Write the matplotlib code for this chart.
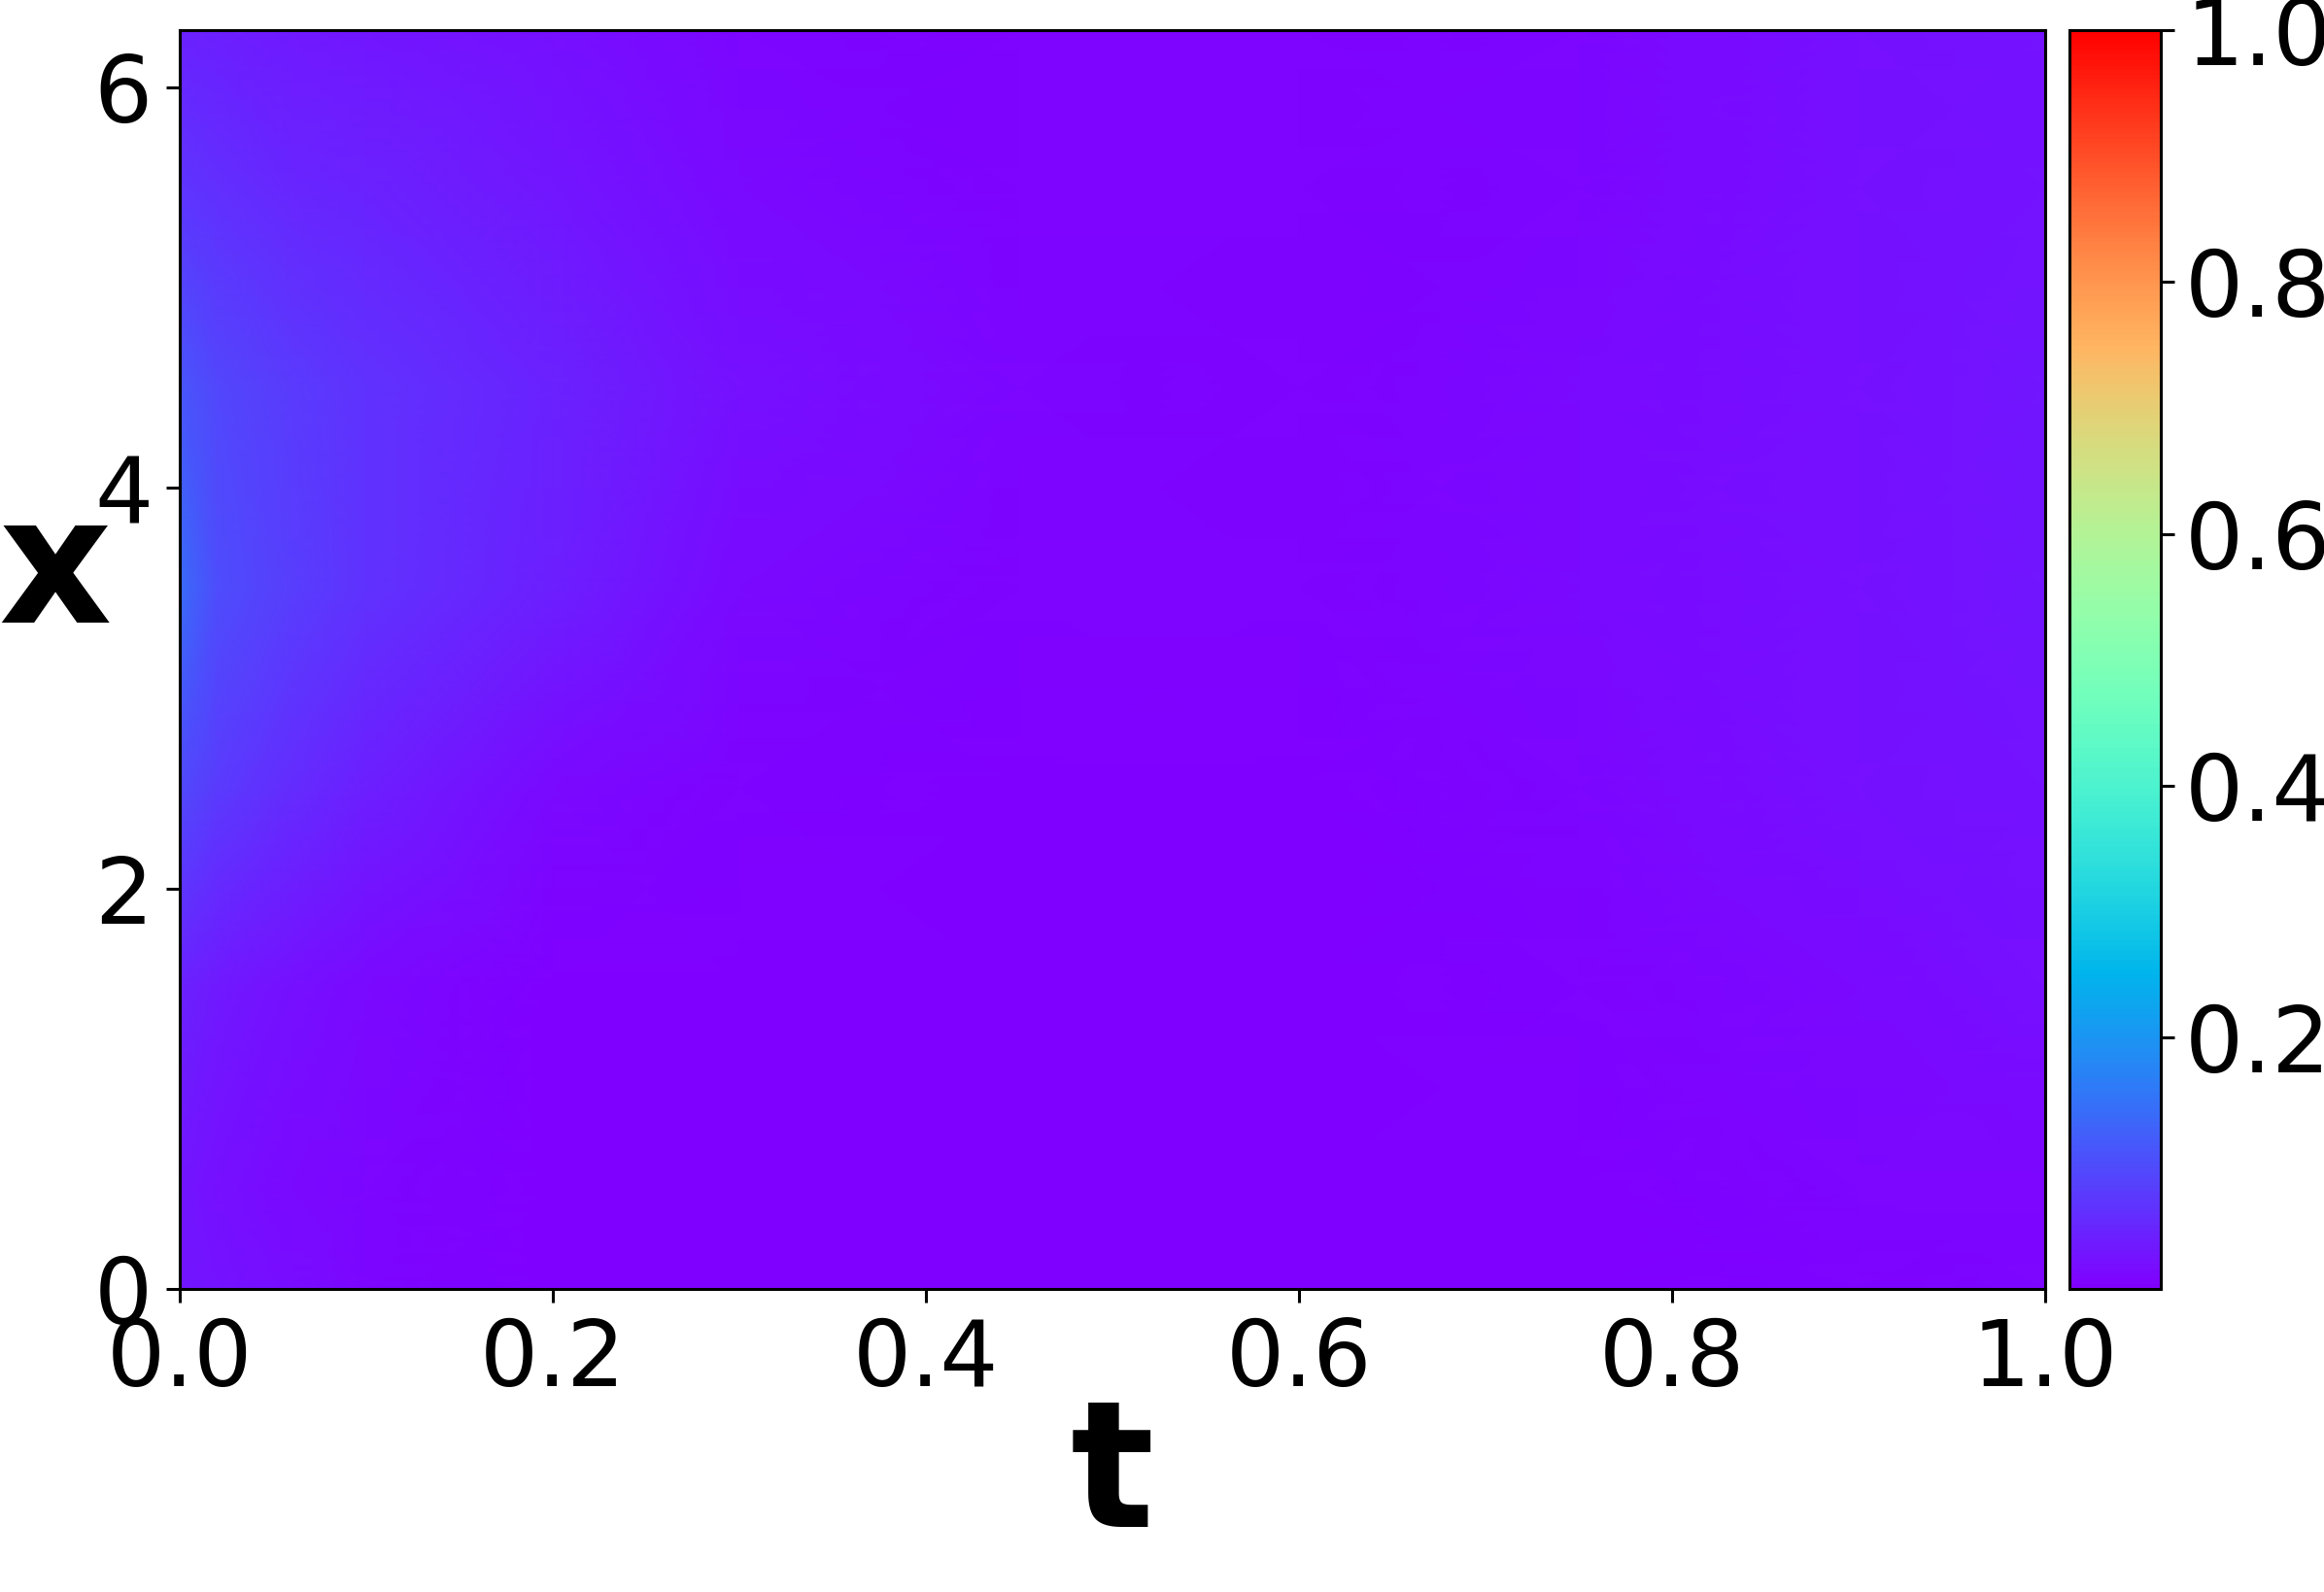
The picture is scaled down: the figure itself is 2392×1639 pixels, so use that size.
#Heatmap of u(t, x) with a rainbow colormap and colorbar

#import the libraries
import numpy as np
import matplotlib
matplotlib.use('Agg')
import matplotlib.pyplot as plt

#grid (coarse, the renderer blends between nodes)
t_nodes = [0.0, 0.02, 0.06, 0.1, 0.2, 0.3, 0.45, 0.6, 0.75, 0.9, 1.0]
x_nodes = [0.0, 0.5, 1.5, 2.5, 3.5, 4.5, 5.5, 2 * np.pi]

#one row per x node, one column per t node
u_x0 = [0.030, 0.025, 0.018, 0.010, 0.003, 0.000, 0.000, 0.000, 0.002, 0.005, 0.008]
u_x05 = [0.028, 0.022, 0.015, 0.010, 0.003, 0.000, 0.000, 0.000, 0.003, 0.008, 0.010]
u_x15 = [0.045, 0.035, 0.020, 0.012, 0.003, 0.001, 0.000, 0.002, 0.006, 0.015, 0.020]
u_x25 = [0.095, 0.075, 0.055, 0.040, 0.015, 0.005, 0.002, 0.003, 0.010, 0.020, 0.025]
u_x35 = [0.140, 0.100, 0.080, 0.065, 0.040, 0.015, 0.005, 0.005, 0.012, 0.022, 0.028]
u_x45 = [0.110, 0.090, 0.075, 0.065, 0.045, 0.020, 0.008, 0.005, 0.012, 0.022, 0.028]
u_x55 = [0.070, 0.060, 0.050, 0.045, 0.030, 0.015, 0.005, 0.005, 0.010, 0.020, 0.025]
u_x2pi = [0.045, 0.040, 0.035, 0.030, 0.020, 0.010, 0.005, 0.005, 0.010, 0.020, 0.025]

cbar_ticks = [0.2, 0.4, 0.6, 0.8, 1.0]

U = np.array([u_x0, u_x05, u_x15, u_x25, u_x35, u_x45, u_x55, u_x2pi])
T, X = np.meshgrid(t_nodes, x_nodes)

#figure
fig = plt.figure(figsize=(23.92, 16.39), dpi=100)
ax = fig.add_axes([0.0773, 0.1903, 0.8027, 0.7907])
cax = fig.add_axes([0.8905, 0.1903, 0.0393, 0.7907])

mesh = ax.pcolormesh(T, X, U, cmap='rainbow', vmin=0.0, vmax=1.0, shading='gouraud')
ax.set_xlim(0, 1)
ax.set_ylim(0, 2 * np.pi)
ax.set_xticks([0.0, 0.2, 0.4, 0.6, 0.8, 1.0])
ax.set_yticks([0, 2, 4, 6])
ax.tick_params(labelsize=68, length=10, width=2.2, pad=10)
for s in ax.spines.values():
    s.set_linewidth(2.2)

ax.set_xlabel('t', fontsize=130, fontweight='bold', labelpad=-9)
ax.set_ylabel('x', fontsize=130, fontweight='bold', rotation=0)
ax.yaxis.set_label_coords(-0.067, 0.5)

cb = fig.colorbar(mesh, cax=cax)
cb.set_ticks(cbar_ticks)
cb.ax.tick_params(labelsize=68, length=10, width=2.2, pad=8)
cb.outline.set_linewidth(2.2)

plt.savefig('out.png', dpi=100)
